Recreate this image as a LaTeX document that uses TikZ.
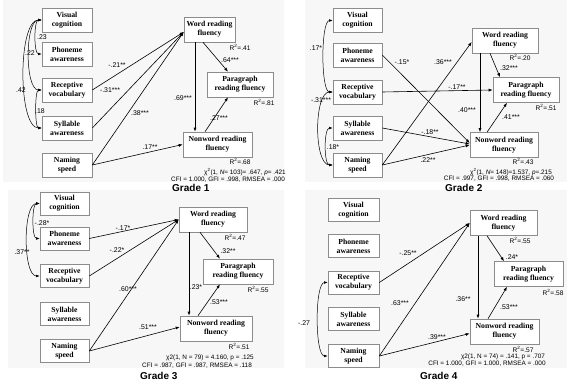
\documentclass[tikz,border=0pt]{standalone}
\usepackage{fontspec}
\setmainfont{Liberation Serif}
\newfontfamily\sansf{Liberation Sans}
\usetikzlibrary{arrows.meta}
\newcommand\rsqtext[1]{R\textsuperscript{2}=#1}
\begin{document}
\begin{tikzpicture}[x=1pt,y=-1pt,
  box/.style={draw=black!45, line width=0.6pt, fill=white, align=center, inner sep=0pt, font=\bfseries\fontsize{7.7}{9}\selectfont},
  lbox/.style={box, minimum width=50pt, minimum height=24pt},
  rbox/.style={box, minimum height=25pt},
  lbl/.style={font=\sansf\fontsize{6.9}{7}\selectfont, inner sep=0pt},
  rsq/.style={font=\sansf\fontsize{6.6}{7}\selectfont, inner sep=0pt},
  stat/.style={font=\sansf\fontsize{6.4}{7}\selectfont, inner sep=0pt},
  grade/.style={font=\sansf\bfseries\fontsize{10}{12}\selectfont, inner sep=0pt, anchor=west},
  arr/.style={-{Latex[length=4pt,width=3pt]}, line width=0.6pt},
  cov/.style={{Latex[length=3.5pt,width=2.6pt]}-{Latex[length=3.5pt,width=2.6pt]}, line width=0.5pt},
  bg/.style={fill=black!3, draw=none}]
\useasboundingbox (0,0) rectangle (567,385);
\fill[white] (0,0) rectangle (567,385);
\fill[bg] (3,0) rectangle (284,182);
\fill[bg] (305,0) rectangle (567,182);
\fill[bg] (8,190) rectangle (284,368);
\fill[bg] (305,190) rectangle (567,368);

% ================= Grade 1 =================
\node[lbox] (a1v) at (67,20) {Visual\\cognition};
\node[lbox] (a1p) at (67,54) {Phoneme\\awareness};
\node[lbox] (a1r) at (67,90) {Receptive\\vocabulary};
\node[lbox] (a1s) at (67,128) {Syllable\\awareness};
\node[lbox] (a1n) at (67,165) {Naming\\speed};
\node[rbox, minimum width=51pt] (a1w) at (209.5,29.5) {Word reading\\fluency};
\node[rbox, minimum width=66pt] (a1g) at (240,84.5) {Paragraph\\reading fluency};
\node[rbox, minimum width=69pt] (a1o) at (217.5,144.5) {Nonword reading\\fluency};

\draw[arr] (a1r.east) -- ([yshift=-2.5pt]a1w.west);
\draw[arr] (a1s.east) -- ([yshift=-2.5pt]a1w.west);
\draw[arr] (a1n.east) -- ([yshift=-2.5pt]a1w.west);
\draw[arr] (a1n.east) -- (a1o.west);
\draw[arr] ([xshift=-14.5pt]a1w.south) -- ([xshift=-22.5pt]a1o.north);
\draw[arr] ([xshift=-6.5pt]a1w.south) -- ([xshift=-12pt]a1g.north);
\draw[arr] ([xshift=-12.5pt]a1o.north) -- ([xshift=-12pt]a1g.south);

\draw[cov] (a1v.west) .. controls ([xshift=-8pt]a1v.west) and ([xshift=-8pt]a1p.west) .. (a1p.west);
\draw[cov] (a1v.west) .. controls ([xshift=-17pt]a1v.west) and ([xshift=-17pt]a1r.west) .. (a1r.west);
\draw[cov] (a1v.west) .. controls ([xshift=-24pt]a1v.west) and ([xshift=-24pt]a1s.west) .. (a1s.west);
\draw[cov] (a1r.west) .. controls ([xshift=-7pt]a1r.west) and ([xshift=-7pt]a1s.west) .. (a1s.west);

\node[lbl] (a1c1) at (42,37) {.23};
\node[lbl] (a1c2) at (30,53) {.22};
\node[lbl] (a1c3) at (21,90) {.42};
\node[lbl] (a1c4) at (40,111) {.18};
\node[lbl] (a1l1) at (117,65) {-.21**};
\node[lbl] (a1l2) at (110,90) {-.31***};
\node[lbl] (a1l3) at (140,113) {.38***};
\node[lbl] (a1l4) at (150,147) {.17**};
\node[lbl] (a1l5) at (183,98) {.69***};
\node[lbl] (a1l6) at (230,60) {.64***};
\node[lbl] (a1l7) at (219,118) {.27***};
\node[rsq] (a1q1) at (240,47) {\rsqtext{.41}};
\node[rsq] (a1q2) at (264,102) {\rsqtext{.81}};
\node[rsq] (a1q3) at (240,161) {\rsqtext{.68}};
\node[stat] (a1x) at (245,172) {χ\textsuperscript{2}(1, \textit{N}= 103)= .647, \textit{p}= .421};
\node[stat] (a1f) at (228,180) {CFI = 1.000, GFI = .998, RMSEA = .000};
\node[grade] (a1t) at (172,188) {Grade 1};

% ================= Grade 2 =================
\node[lbox, minimum width=49pt] (b1v) at (357.5,20.5) {Visual\\cognition};
\node[lbox, minimum width=49pt] (b1p) at (357.5,55) {Phoneme\\awareness};
\node[lbox, minimum width=49pt] (b1r) at (357.5,92) {Receptive\\vocabulary};
\node[lbox, minimum width=49pt] (b1s) at (357.5,128) {Syllable\\awareness};
\node[lbox, minimum width=49pt] (b1n) at (357.5,165) {Naming\\speed};
\node[rbox, minimum width=66pt] (b1w) at (505,40.5) {Word reading\\fluency};
\node[rbox, minimum width=66pt] (b1g) at (526,90) {Paragraph\\reading fluency};
\node[rbox, minimum width=68pt] (b1o) at (504,145) {Nonword reading\\fluency};

\draw[arr] (b1p.east) -- ([yshift=2pt]b1o.west);
\draw[arr] (b1n.east) -- ([yshift=-1.5pt]b1w.west);
\draw[arr] (b1r.east) -- (b1g.west);
\draw[arr] (b1s.east) -- ([yshift=1pt]b1o.west);
\draw[arr] (b1n.east) -- ([yshift=0pt]b1o.west);
\draw[arr] ([xshift=-25pt]b1w.south) -- ([xshift=-24pt]b1o.north);
\draw[arr] ([xshift=-15pt]b1w.south) -- ([xshift=-26pt]b1g.north);
\draw[arr] ([xshift=-17pt]b1o.north) -- ([xshift=-19pt]b1g.south);

\draw[cov] (b1v.west) .. controls ([xshift=-12pt]b1v.west) and ([xshift=-12pt]b1r.west) .. (b1r.west);
\draw[cov] (b1r.west) .. controls ([xshift=-19pt]b1r.west) and ([xshift=-19pt]b1n.west) .. (b1n.west);
\draw[cov] (b1s.west) .. controls ([xshift=-9pt]b1s.west) and ([xshift=-9pt]b1n.west) .. (b1n.west);

\node[lbl] (b1c1) at (316,48) {.17*};
\node[lbl] (b1c2) at (321,100) {-.31***};
\node[lbl] (b1c3) at (333,147) {.18*};
\node[lbl] (b1l1) at (402,62) {-.15*};
\node[lbl] (b1l2) at (443,62) {.36***};
\node[lbl] (b1l3) at (457,87) {-.17**};
\node[lbl] (b1l4) at (430,132) {-.18**};
\node[lbl] (b1l5) at (428,160) {.22**};
\node[lbl] (b1l6) at (467,110) {.40***};
\node[lbl] (b1l7) at (509,68) {.32***};
\node[lbl] (b1l8) at (511,117) {.41***};
\node[rsq] (b1q1) at (520,57) {\rsqtext{.20}};
\node[rsq] (b1q2) at (546,107) {\rsqtext{.51}};
\node[rsq] (b1q3) at (523,161) {\rsqtext{.43}};
\node[stat] (b1x) at (511,172) {χ\textsuperscript{2}(1, \textit{N}= 148)=1.537, \textit{p}=.215};
\node[stat] (b1f) at (499,179) {CFI = .997, GFI = .998, RMSEA = .060};
\node[grade] (b1t) at (445,188) {Grade 2};

% ================= Grade 3 =================
\node[lbox, minimum width=49pt, minimum height=23pt] (c1v) at (64.5,203.5) {Visual\\cognition};
\node[lbox, minimum width=49pt, minimum height=23pt] (c1p) at (64.5,238.5) {Phoneme\\awareness};
\node[lbox, minimum width=49pt, minimum height=23pt] (c1r) at (64.5,276) {Receptive\\vocabulary};
\node[lbox, minimum width=49pt, minimum height=23pt] (c1s) at (64.5,314) {Syllable\\awareness};
\node[lbox, minimum width=49pt, minimum height=23pt] (c1n) at (64.5,351) {Naming\\speed};
\node[rbox, minimum width=68pt] (c1w) at (213,219.5) {Word reading\\fluency};
\node[rbox, minimum width=70pt] (c1g) at (238,271.5) {Paragraph\\reading fluency};
\node[rbox, minimum width=72pt] (c1o) at (216,328.5) {Nonword reading\\fluency};

\draw[arr] (c1p.east) -- (c1w.west);
\draw[arr] (c1r.east) -- (c1w.west);
\draw[arr] (c1n.east) -- (c1w.west);
\draw[arr] (c1n.east) -- ([yshift=1.5pt]c1o.west);
\draw[arr] ([xshift=-24pt]c1w.south) -- ([xshift=-27pt]c1o.north);
\draw[arr] ([xshift=-13pt]c1w.south) -- ([xshift=-18pt]c1g.north);
\draw[arr] ([xshift=-18pt]c1o.north) -- ([xshift=-18pt]c1g.south);

\draw[cov] (c1v.west) .. controls ([xshift=-8pt]c1v.west) and ([xshift=-8pt]c1p.west) .. (c1p.west);
\draw[cov] (c1v.west) .. controls ([xshift=-17pt]c1v.west) and ([xshift=-17pt]c1r.west) .. (c1r.west);

\node[lbl] (c1c1) at (42,223) {-.28*};
\node[lbl] (c1c2) at (22,252) {.37**};
\node[lbl] (c1l1) at (123,228) {-.17*};
\node[lbl] (c1l2) at (117,250) {-.22*};
\node[lbl] (c1l3) at (128,289) {.60***};
\node[lbl] (c1l4) at (148,327) {.51***};
\node[lbl] (c1l5) at (196,287) {.23*};
\node[lbl] (c1l6) at (228,251) {.32**};
\node[lbl] (c1l7) at (219,302) {.53***};
\node[rsq] (c1q1) at (235,237) {\rsqtext{.47}};
\node[rsq] (c1q2) at (258,289) {\rsqtext{.55}};
\node[rsq] (c1q3) at (239,346) {\rsqtext{.51}};
\node[stat] (c1x) at (210,358) {χ2(1, N = 79) = 4.160, p = .125};
\node[stat] (c1f) at (197,366) {CFI = .987, GFI = .987, RMSEA = .118};
\node[grade] (c1t) at (140,376) {Grade 3};

% ================= Grade 4 =================
\node[lbox, minimum width=51pt, minimum height=23pt] (d1v) at (353.5,210) {Visual\\cognition};
\node[lbox, minimum width=51pt, minimum height=23pt] (d1p) at (353.5,246) {Phoneme\\awareness};
\node[lbox, minimum width=51pt, minimum height=23pt] (d1r) at (353.5,282.5) {Receptive\\vocabulary};
\node[lbox, minimum width=51pt, minimum height=23pt] (d1s) at (353.5,319) {Syllable\\awareness};
\node[lbox, minimum width=51pt, minimum height=23pt] (d1n) at (353.5,356) {Naming\\speed};
\node[rbox, minimum width=67pt] (d1w) at (503.5,223) {Word reading\\fluency};
\node[rbox, minimum width=69pt] (d1g) at (528.5,274) {Paragraph\\reading fluency};
\node[rbox, minimum width=69pt] (d1o) at (504.5,331.5) {Nonword reading\\fluency};

\draw[arr] (d1r.east) -- (d1w.west);
\draw[arr] (d1n.east) -- (d1w.west);
\draw[arr] (d1n.east) -- ([yshift=-2pt]d1o.west);
\draw[arr] ([xshift=-25.5pt]d1w.south) -- ([xshift=-26.5pt]d1o.north);
\draw[arr] ([xshift=-16.5pt]d1w.south) -- ([xshift=-24.5pt]d1g.north);
\draw[arr] ([xshift=-16.5pt]d1o.north) -- ([xshift=-21.5pt]d1g.south);

\draw[cov] (d1r.west) .. controls ([xshift=-13pt]d1r.west) and ([xshift=-13pt]d1n.west) .. (d1n.west);

\node[lbl] (d1c1) at (304,323) {-.27};
\node[lbl] (d1l1) at (408,253) {-.25**};
\node[lbl] (d1l2) at (400,303) {.63***};
\node[lbl] (d1l3) at (437,337) {.39***};
\node[lbl] (d1l4) at (463,299) {.36**};
\node[lbl] (d1l5) at (512,257) {.24*};
\node[lbl] (d1l6) at (509,307) {.53***};
\node[rsq] (d1q1) at (520,240) {\rsqtext{.55}};
\node[rsq] (d1q2) at (553,292) {\rsqtext{.58}};
\node[rsq] (d1q3) at (523,349) {\rsqtext{.57}};
\node[stat] (d1x) at (503,357) {χ2(1, N = 74) = .141, p = .707};
\node[stat] (d1f) at (487,364) {CFI = 1.000, GFI = 1.000, RMSEA = .000};
\node[grade] (d1t) at (420,376) {Grade 4};
\end{tikzpicture}
\end{document}
